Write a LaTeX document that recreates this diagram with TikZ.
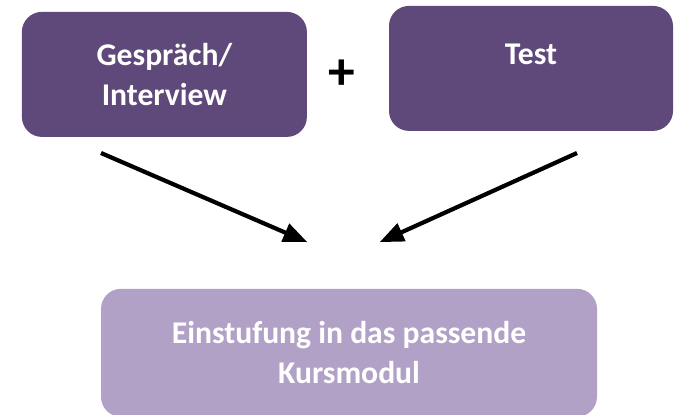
\documentclass[tikz,border=0pt]{standalone}
\usepackage{fontspec}
\setmainfont{Carlito}
\usepackage{tikz}
\usetikzlibrary{shapes.geometric, arrows}
\usetikzlibrary{positioning}
\definecolor{darkpurple}{HTML}{5F497A}
\definecolor{lightpurple}{HTML}{B2A1C7}
\tikzstyle{step box} = [rectangle, rounded corners=0.5cm, fill=darkpurple, text=white, font=\fontsize{22.5}{28.5}\selectfont\bfseries, align=center, inner sep=0pt]
\tikzstyle{result box} = [rectangle, rounded corners=0.5cm, fill=lightpurple, text=white, font=\fontsize{22.5}{28.5}\selectfont\bfseries, align=center, inner sep=0pt]
\tikzstyle{arrow} = [line width=3pt,->,>=triangle 45]

\begin{document}
\begin{tikzpicture}[node distance=1.5 cm]
                                \useasboundingbox (0,0) rectangle (16.925,10.35);
                                \node (interview) [step box, minimum width=7.125cm, minimum height=3.125cm] at (4.11,8.49) {Gespräch/\\Interview};
                                \node (test) [step box, minimum width=7.1cm, minimum height=3.125cm] at (13.275,8.64) {\raisebox{0.11cm}[0pt][0pt]{Test}};
                                \node (plus) [font=\fontsize{38}{40}\selectfont\bfseries] at (8.55,8.47) {+};
                                \node (module) [result box, minimum width=12.4cm, minimum height=3.2cm] at (8.725,1.53) {Einstufung in das passende\\Kursmodul};
                                \coordinate (a1) at (2.525,6.525);
                                \coordinate (a2) at (7.675,4.3);
                                \coordinate (b1) at (14.425,6.525);
                                \coordinate (b2) at (9.5,4.3);
                                \draw [arrow] (a1) -- (a2);
                                \draw [arrow] (b1) -- (b2);
                            \end{tikzpicture}
\end{document}
